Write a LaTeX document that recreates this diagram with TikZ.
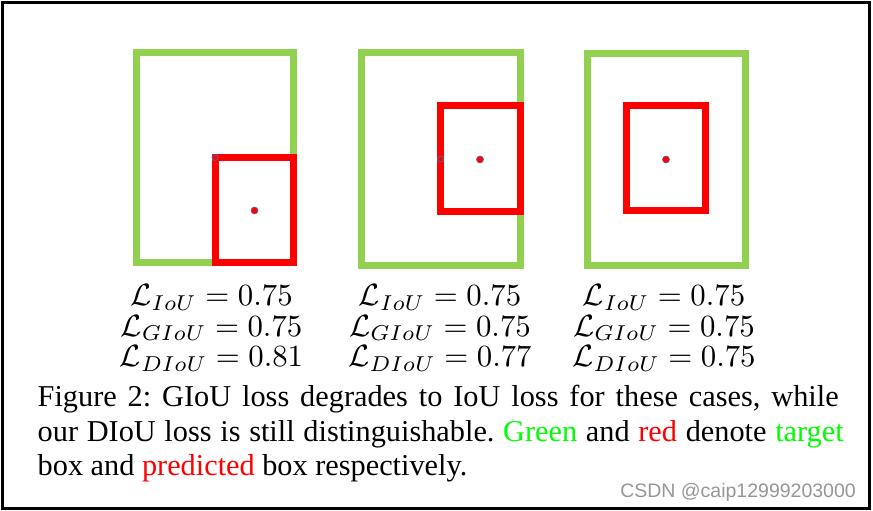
\RequirePackage{fix-cm}
\documentclass[tikz,border=0pt]{standalone}
\usepackage{fontspec}
\setmainfont{Liberation Serif}
\newfontfamily\wmfont{Liberation Sans}
\definecolor{boxgreen}{RGB}{146,208,80}
\definecolor{boxred}{RGB}{255,0,0}
\definecolor{capgreen}{RGB}{0,255,0}
\definecolor{dotedge}{RGB}{90,100,150}
\definecolor{wmgray}{RGB}{150,150,150}
\tikzset{
  gbox/.style={draw=boxgreen, line width=7pt},
  rbox/.style={draw=boxred, line width=7pt},
  cdot/.style={circle, fill=boxred, draw=dotedge, line width=0.6pt, inner sep=0pt, minimum size=7pt},
  odot/.style={circle, draw=dotedge, line width=0.8pt, inner sep=0pt, minimum size=6pt},
  eq/.style={anchor=base, inner sep=0pt, font=\fontsize{10}{10}\selectfont, scale=3.08, transform shape},
  capt/.style={anchor=base west, inner sep=0pt, font=\fontsize{30.3}{34.5}\selectfont\frenchspacing},
}
\begin{document}
\begin{tikzpicture}[x=1pt,y=-1pt]
\useasboundingbox (0,0) rectangle (873,511);
\draw[line width=3pt] (2.5,2.5) rectangle (869.5,508.3);

% case 1
\draw[gbox] (136.5,52.5) rectangle (293.5,262.5);
\draw[rbox] (215,157.5) rectangle (293.5,262.5);
\node[odot] (gc1) at (215,157.5) {};
\node[cdot] (rc1) at (254.5,210.5) {};

% case 2
\draw[gbox] (361,53) rectangle (520,265);
\draw[rbox] (440,105.5) rectangle (520,211.5);
\node[odot] (gc2) at (440.5,159) {};
\node[cdot] (rc2) at (480,159.5) {};

% case 3
\draw[gbox] (587,54) rectangle (745,265);
\draw[rbox] (626,105) rectangle (705,210.5);
\node[cdot] (rc3) at (666,159.5) {};

% losses
\node[eq] (a1) at (211.5,305.5) {$\mathcal{L}_{IoU} = 0.75$};
\node[eq] (a2) at (211.5,336) {$\mathcal{L}_{GIoU} = 0.75$};
\node[eq] (a3) at (211.5,366.5) {$\mathcal{L}_{DIoU} = 0.81$};
\node[eq] (b1) at (440,305.5) {$\mathcal{L}_{IoU} = 0.75$};
\node[eq] (b2) at (440,336) {$\mathcal{L}_{GIoU} = 0.75$};
\node[eq] (b3) at (440,366.5) {$\mathcal{L}_{DIoU} = 0.77$};
\node[eq] (c1) at (664,305.5) {$\mathcal{L}_{IoU} = 0.75$};
\node[eq] (c2) at (664,336) {$\mathcal{L}_{GIoU} = 0.75$};
\node[eq] (c3) at (664,366.5) {$\mathcal{L}_{DIoU} = 0.75$};

% caption
\node[capt] (cap1) at (37.5,406) {\makebox[801pt][s]{Figure 2: GIoU loss degrades to IoU loss for these cases, while}};
\node[capt] (cap2) at (37.5,441.5) {\makebox[806pt][s]{our DIoU loss is still distinguishable. \textcolor{capgreen}{Green} and \textcolor{boxred}{red} denote \textcolor{capgreen}{target}}};
\node[capt] (cap3) at (37.5,475.5) {box and \textcolor{boxred}{predicted} box respectively.};

\node[anchor=base east, inner sep=0pt, text=wmgray, font=\wmfont\fontsize{19.5}{19.5}\selectfont] (wm) at (856,497) {CSDN @caip12999203000};
\end{tikzpicture}
\end{document}
